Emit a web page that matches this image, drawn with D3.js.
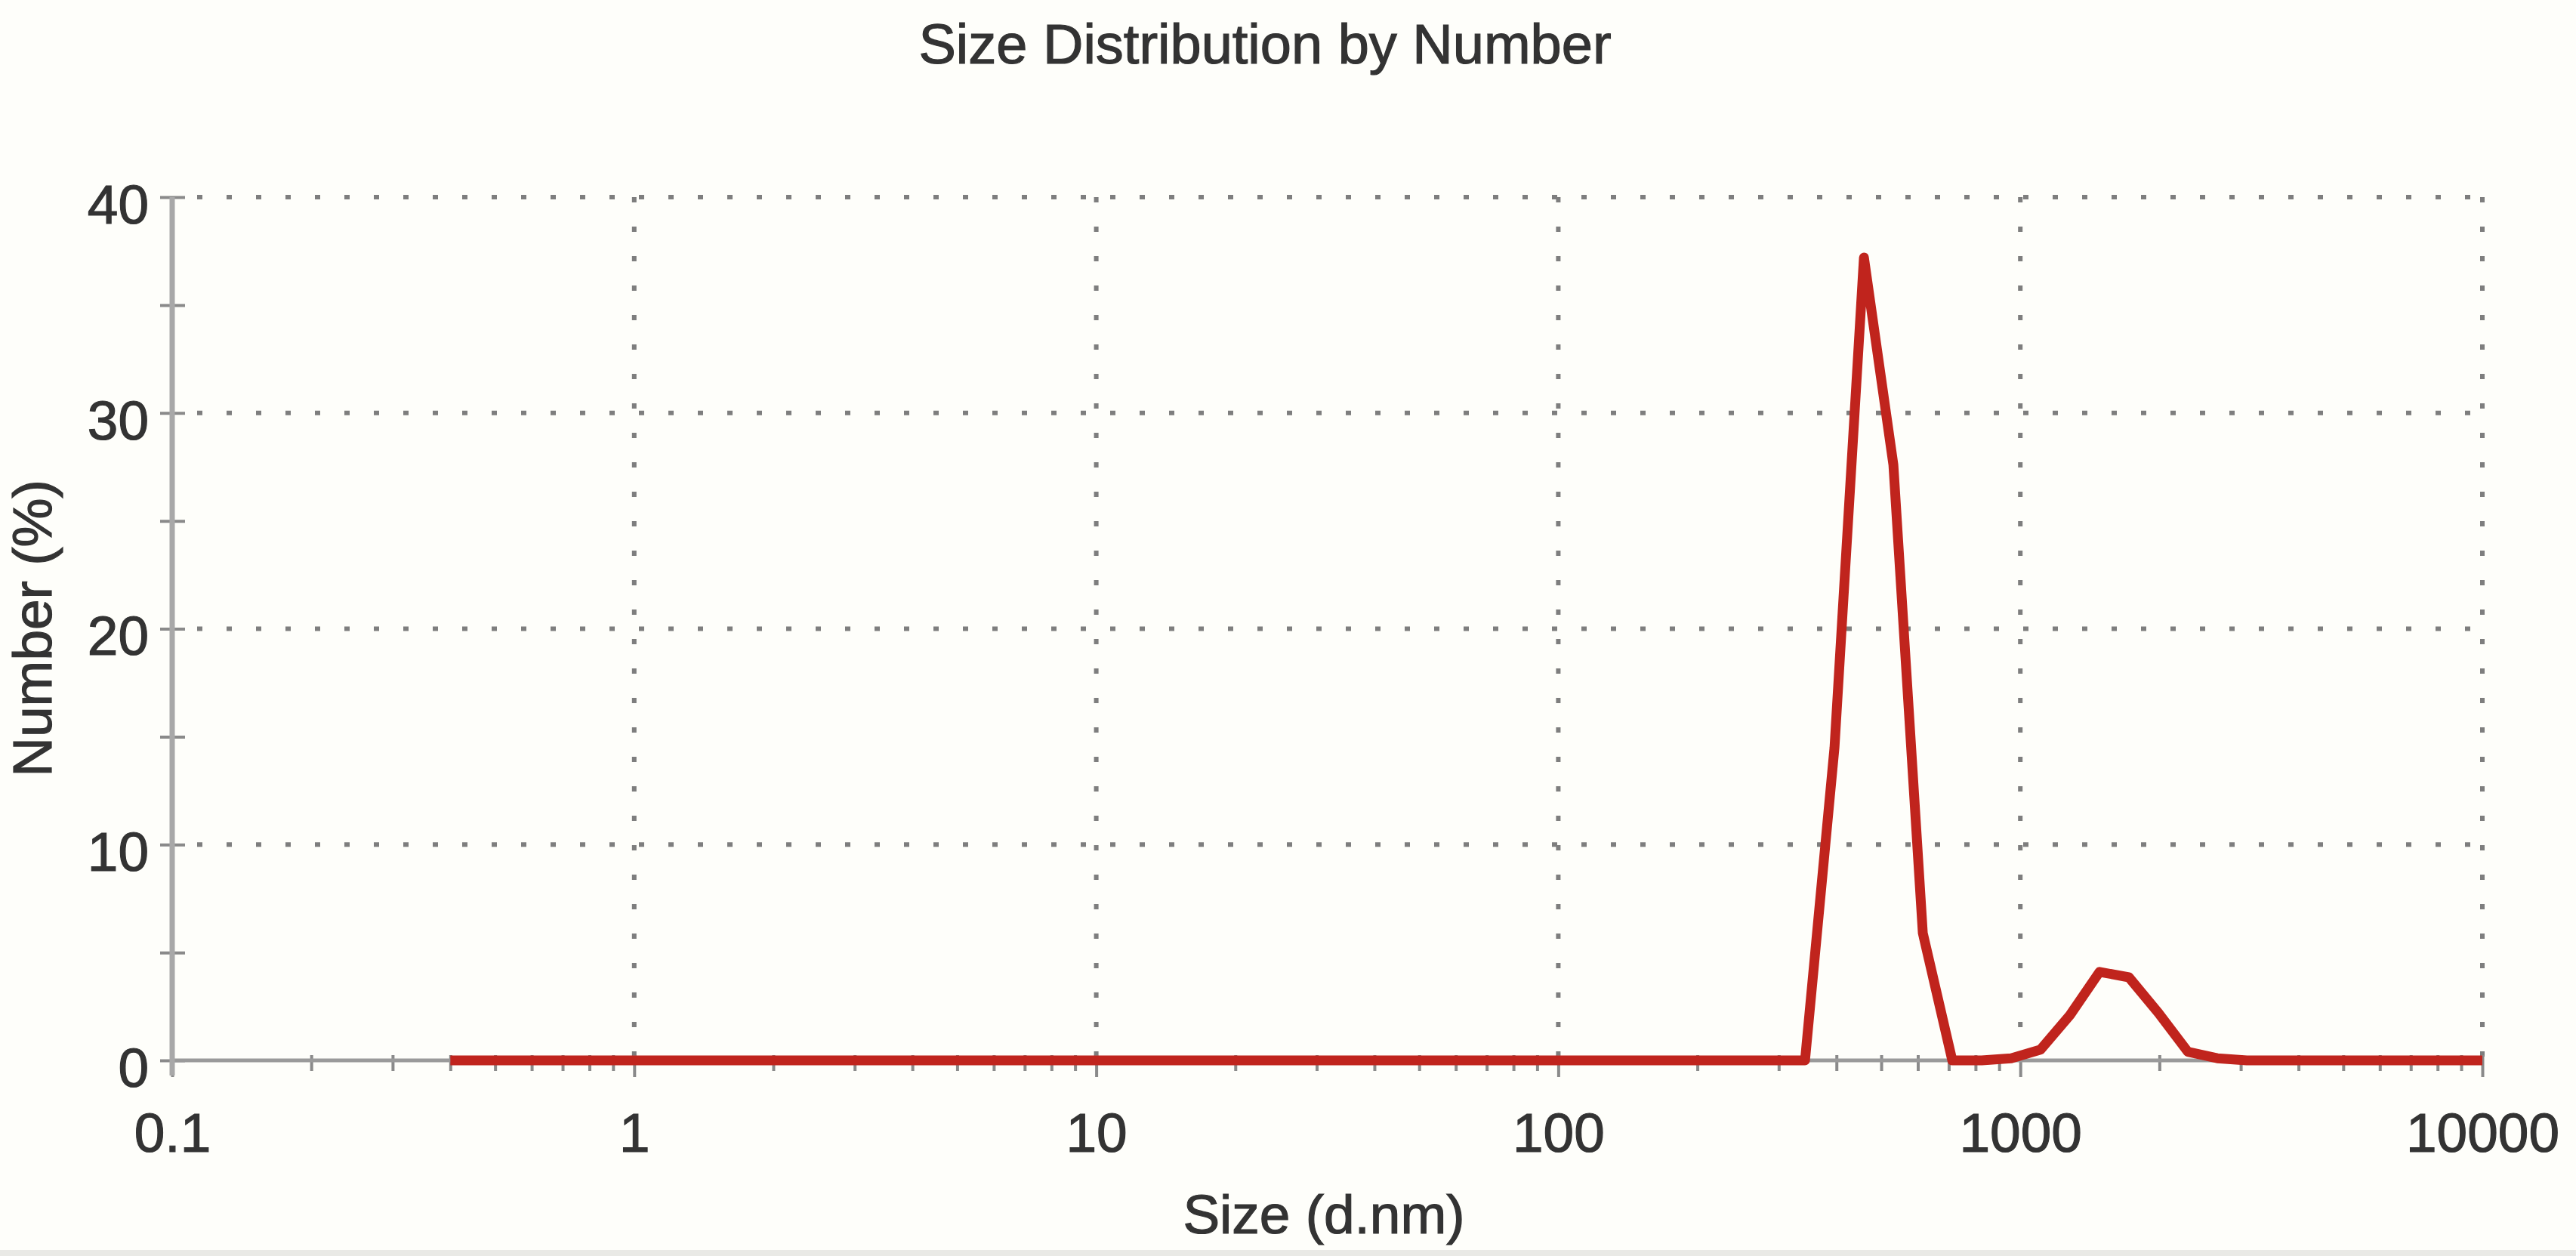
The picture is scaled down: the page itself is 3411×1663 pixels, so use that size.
<!DOCTYPE html>
<html lang="en">
<head>
  <meta charset="UTF-8">
  <title>Size Distribution by Number</title>
  <style>
    body { margin: 0; background: #fefefa; }
    text { font-family: "Liberation Sans", Arial, sans-serif; fill: #333; stroke: #333; stroke-width: 1.2px; }
  </style>
</head>
<body>
  <svg id="svg" width="3411" height="1663"></svg>
  <script src="https://d3js.org/d3.v7.min.js"></script>
  <script>
    // size classes (d.nm)
    const sizes = [0.4, 0.4632, 0.5365, 0.6213, 0.7195, 0.8332, 0.9649, 1.117, 1.294, 1.499,
      1.736, 2.01, 2.328, 2.696, 3.122, 3.615, 4.187, 4.849, 5.615, 6.503,
      7.531, 8.721, 10.1, 11.7, 13.54, 15.69, 18.17, 21.04, 24.36, 28.21,
      32.67, 37.84, 43.82, 50.75, 58.77, 68.06, 78.82, 91.28, 105.7, 122.4,
      141.8, 164.2, 190.1, 220.2, 255, 295.3, 342, 396.1, 458.7, 531.2,
      615.1, 712.4, 825, 955.4, 1106, 1281, 1484, 1718, 1990, 2305,
      2669, 3091, 3580, 4145, 4801, 5560, 6439, 7456, 8635, 10000]

    // number (%)
    const numbers = [0, 0, 0, 0, 0, 0, 0, 0, 0, 0,
      0, 0, 0, 0, 0, 0, 0, 0, 0, 0,
      0, 0, 0, 0, 0, 0, 0, 0, 0, 0,
      0, 0, 0, 0, 0, 0, 0, 0, 0, 0,
      0, 0, 0, 0, 0, 0, 0, 14.5, 37.2, 27.6,
      5.9, 0, 0, 0.1, 0.5, 2.1, 4.1, 3.85, 2.2, 0.4,
      0.1, 0, 0, 0, 0, 0, 0, 0, 0, 0]

    const xMajor = [0.1, 1, 10, 100, 1000, 10000]
    const yMajor = [0, 10, 20, 30, 40]
    const yMinor = [5, 15, 25, 35]

    const svg = d3.select('#svg')

    const xScale = d3.scaleLog()
      .domain([0.1, 10000])
      .range([228, 3287])

    const yScale = d3.scaleLinear()
      .domain([0, 40])
      .range([1404, 261])

    const isMajor = d => xMajor.some(m => Math.abs(m - d) / m < 1e-6)

    // bottom strip of the scan
    svg.append('rect')
      .attr('x', 0).attr('y', 1655)
      .attr('width', 3411).attr('height', 8)
      .attr('fill', '#e9e9e6')

    // dotted grid
    const grid = svg.append('g')
      .attr('stroke', '#7e7e7e')
      .attr('stroke-width', 6)
      .attr('stroke-dasharray', '7,32')

    grid.selectAll('.hgrid')
      .data(yMajor.filter(d => d > 0))
      .enter()
      .append('line')
      .attr('x1', xScale(0.1) + 33)
      .attr('x2', xScale(10000))
      .attr('y1', d => yScale(d))
      .attr('y2', d => yScale(d))

    grid.selectAll('.vgrid')
      .data(xMajor.filter(d => d > 0.1))
      .enter()
      .append('line')
      .attr('x1', d => xScale(d))
      .attr('x2', d => xScale(d))
      .attr('y1', yScale(40))
      .attr('y2', yScale(0))

    // x axis
    const xAxis = d3.axisBottom(xScale)
      .tickValues(xScale.ticks())
      .tickFormat(d => isMajor(d) ? String(d) : '')
      .tickSize(14)

    const gx = svg.append('g')
      .attr('transform', `translate(0,${yScale(0)})`)
      .call(xAxis)
    gx.select('.domain').remove()
    gx.selectAll('.tick line')
      .attr('stroke', '#8a8a8a')
      .attr('stroke-width', 4)
      .attr('y1', -7)
      .attr('y2', d => isMajor(d) ? 22 : 14)
    gx.selectAll('.tick text')
      .attr('y', 121)
      .attr('dy', 0)
      .style('font-size', '73px')
      .style('font-family', '"Liberation Sans", Arial, sans-serif')
      .attr('fill', '#333')

    // y axis
    const yAxis = d3.axisLeft(yScale)
      .tickValues(yMajor.concat(yMinor))
      .tickFormat(d => yMajor.includes(d) ? String(d) : '')
      .tickSize(16)
      .tickPadding(15)

    const gy = svg.append('g')
      .attr('transform', `translate(${xScale(0.1)},0)`)
      .call(yAxis)
    gy.select('.domain').remove()
    gy.selectAll('.tick line')
      .attr('stroke', '#8a8a8a')
      .attr('stroke-width', 4)
      .attr('x1', -16)
      .attr('x2', 17)
    gy.selectAll('.tick text')
      .attr('dy', '0.47em')
      .style('font-size', '73px')
      .style('font-family', '"Liberation Sans", Arial, sans-serif')
      .attr('fill', '#333')

    // axis lines
    svg.append('line')
      .attr('x1', xScale(0.1)).attr('x2', xScale(10000))
      .attr('y1', yScale(0)).attr('y2', yScale(0))
      .attr('stroke', '#9a9a9a')
      .attr('stroke-width', 5)

    svg.append('line')
      .attr('x1', xScale(0.1)).attr('x2', xScale(0.1))
      .attr('y1', yScale(40)).attr('y2', yScale(0) + 20)
      .attr('stroke', '#a8a8a8')
      .attr('stroke-width', 7)

    // distribution line
    const line = d3.line()
      .x((d, i) => xScale(sizes[i]))
      .y(d => yScale(d))

    svg.append('path')
      .datum(numbers)
      .attr('d', line)
      .attr('fill', 'none')
      .attr('stroke', '#c0241d')
      .attr('stroke-width', 13)
      .attr('stroke-linejoin', 'round')

    // titles
    svg.append('text')
      .attr('x', 1675)
      .attr('y', 84)
      .attr('text-anchor', 'middle')
      .style('font-size', '74px')
      .text('Size Distribution by Number')

    svg.append('text')
      .attr('x', 1753)
      .attr('y', 1633)
      .attr('text-anchor', 'middle')
      .style('font-size', '73px')
      .text('Size (d.nm)')

    svg.append('text')
      .attr('transform', 'translate(68,832) rotate(-90)')
      .attr('text-anchor', 'middle')
      .style('font-size', '73px')
      .text('Number (%)')
  </script>
</body>
</html>
